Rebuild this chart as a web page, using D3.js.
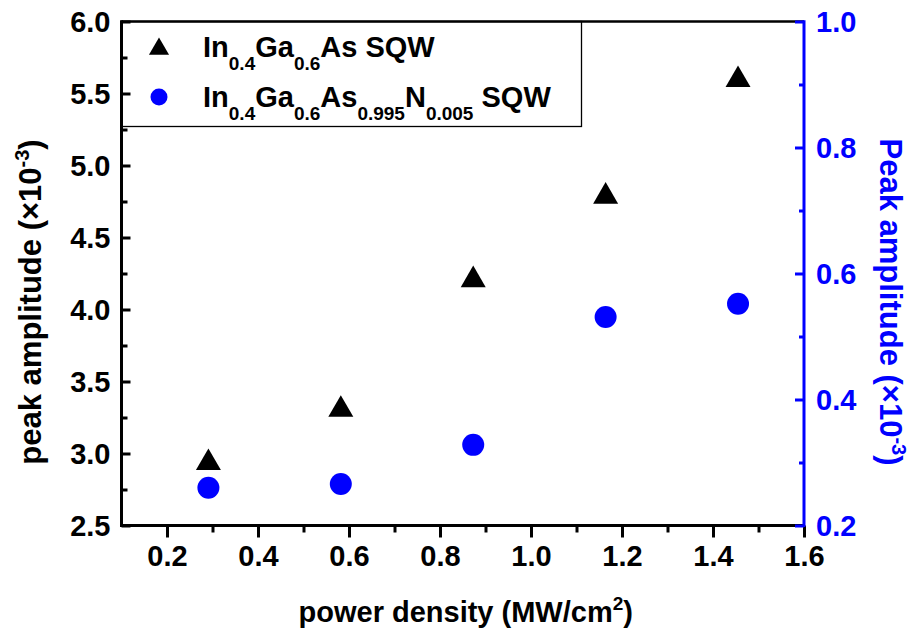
<!DOCTYPE html>
<html>
<head>
<meta charset="utf-8">
<script src="https://cdn.jsdelivr.net/npm/d3@7"></script>
<style>
	body { margin: 0; background: #fff; }
	svg text { font-family: "Liberation Sans", Arial, sans-serif; font-weight: bold; }
</style>
</head>
<body>
<div id="chart"></div>
<script>
// power density (MW/cm2)
var power= [0.291, 0.582, 0.873, 1.164, 1.455];
// left axis, peak amplitude x1e-3
var amp_ingaas= [2.96, 3.33, 4.23, 4.81, 5.62];
// right axis, peak amplitude x1e-3
var amp_ingaasn= [0.260, 0.266, 0.328, 0.531, 0.552];

var x_ticks= [0.2, 0.4, 0.6, 0.8, 1.0, 1.2, 1.4, 1.6];
var x_minor= [0.3, 0.5, 0.7, 0.9, 1.1, 1.3, 1.5];
var yl_ticks= [2.5, 3.0, 3.5, 4.0, 4.5, 5.0, 5.5, 6.0];
var yl_minor= [2.75, 3.25, 3.75, 4.25, 4.75, 5.25, 5.75];
var yr_ticks= [0.2, 0.4, 0.6, 0.8, 1.0];
var yr_minor= [0.3, 0.5, 0.7, 0.9];

var width= 914, height= 641;
var p_left= 121.5, p_right= 804, p_top= 21.5, p_bottom= 525.5;
var blue= "#0000ff";

var svg= d3.select("#chart").append("svg")
	.attr("width", width)
	.attr("height", height);

var x= d3.scaleLinear().domain([0.1, 1.6]).range([p_left, p_right]);
var yl= d3.scaleLinear().domain([2.5, 6.0]).range([p_bottom, p_top]);
var yr= d3.scaleLinear().domain([0.2, 1.0]).range([p_bottom, p_top]);

// top frame line
svg.append("line")
	.attr("x1", p_left).attr("x2", p_right)
	.attr("y1", p_top).attr("y2", p_top)
	.attr("stroke", "#000").attr("stroke-width", 2.5);

// legend box
svg.append("rect")
	.attr("x", p_left).attr("y", p_top)
	.attr("width", 460).attr("height", 105)
	.attr("fill", "none").attr("stroke", "#000").attr("stroke-width", 1.3);

// bottom axis
var xg= svg.append("g").attr("transform", "translate(0," + p_bottom + ")");
xg.call(d3.axisBottom(x).tickValues(x_ticks).tickSize(12).tickFormat(d3.format(".1f")));
xg.append("g").call(d3.axisBottom(x).tickValues(x_minor).tickSize(7).tickFormat(""));
xg.selectAll(".domain").remove();
xg.append("line").attr("x1", p_left - 1.5).attr("x2", p_right)
	.attr("stroke", "#000").attr("stroke-width", 3);
xg.selectAll(".tick line").attr("stroke", "#000").attr("stroke-width", 3);
xg.selectAll(".tick text").attr("font-size", 29).attr("fill", "#000").attr("dy", "1.0em").attr("y", 11);

// left axis, ticks inside
var ylg= svg.append("g").attr("transform", "translate(" + p_left + ",0)");
ylg.call(d3.axisLeft(yl).tickValues(yl_ticks).tickSize(-9).tickFormat(d3.format(".1f")));
ylg.append("g").call(d3.axisLeft(yl).tickValues(yl_minor).tickSize(-6).tickFormat(""));
ylg.selectAll(".domain").remove();
ylg.append("line").attr("y1", p_top - 1.2).attr("y2", p_bottom + 1.5)
	.attr("stroke", "#000").attr("stroke-width", 3);
ylg.selectAll(".tick line").attr("stroke", "#000").attr("stroke-width", 3);
ylg.selectAll(".tick text").attr("font-size", 29).attr("fill", "#000").attr("x", -11).attr("dy", "0.36em");

// right axis, blue, ticks inside
var yrg= svg.append("g").attr("transform", "translate(" + p_right + ",0)");
yrg.call(d3.axisRight(yr).tickValues(yr_ticks).tickSize(-9).tickFormat(d3.format(".1f")));
yrg.append("g").call(d3.axisRight(yr).tickValues(yr_minor).tickSize(-5).tickFormat(""));
yrg.selectAll(".domain").remove();
yrg.append("line").attr("y1", p_top - 1.2).attr("y2", p_bottom + 1.5)
	.attr("stroke", blue).attr("stroke-width", 3);
yrg.selectAll(".tick line").attr("stroke", blue).attr("stroke-width", 3);
yrg.selectAll(".tick text").attr("font-size", 29).attr("fill", blue).attr("x", 12).attr("dy", "0.36em");

// markers
var tri= d3.symbol().type(d3.symbolTriangle).size(270);
var tri_h= Math.sqrt(270 * 4 / Math.sqrt(3)) * Math.sqrt(3) / 2;

svg.append("g").selectAll("path")
	.data(power)
	.join("path")
	.attr("d", tri)
	.attr("transform", function(d, i) { return "translate(" + x(d) + "," + (yl(amp_ingaas[i]) + tri_h / 6) + ")"; })
	.attr("fill", "#000");

svg.append("g").selectAll("circle")
	.data(power)
	.join("circle")
	.attr("cx", function(d) { return x(d); })
	.attr("cy", function(d, i) { return yr(amp_ingaasn[i]); })
	.attr("r", 11)
	.attr("fill", blue);

// legend entries
var leg= svg.append("g");
var tri_s= d3.symbol().type(d3.symbolTriangle).size(175);
leg.append("path").attr("d", tri_s).attr("transform", "translate(159,49)").attr("fill", "#000");
leg.append("circle").attr("cx", 159).attr("cy", 97).attr("r", 8.5).attr("fill", blue);

function legend_text(y, parts) {
	var t= leg.append("text").attr("x", 203).attr("y", y).attr("font-size", 29).attr("fill", "#000");
	parts.forEach(function(p, i) {
		var s= t.append("tspan").text(p[0]);
		if (p[1]) s.attr("font-size", 19).attr("dy", 13);
		else if (i > 0) s.attr("dy", -13);
	});
}
legend_text(57, [["In"], ["0.4", 1], ["Ga"], ["0.6", 1], ["As SQW"]]);
legend_text(107, [["In"], ["0.4", 1], ["Ga"], ["0.6", 1], ["As"], ["0.995", 1], ["N"], ["0.005", 1], [" SQW"]]);

// axis titles
var xt= svg.append("text")
	.attr("x", (p_left + p_right) / 2 + 3).attr("y", 622)
	.attr("text-anchor", "middle").attr("font-size", 29).attr("fill", "#000");
xt.append("tspan").text("power density (MW/cm");
xt.append("tspan").attr("font-size", 19).attr("dy", -12).text("2");
xt.append("tspan").attr("dy", 12).text(")");

var ylt= svg.append("text")
	.attr("transform", "translate(41,302) rotate(-90)")
	.attr("text-anchor", "middle").attr("font-size", 31).attr("fill", "#000");
ylt.append("tspan").text("peak amplitude (\u00d710");
ylt.append("tspan").attr("font-size", 20).attr("dy", -12).text("-3");
ylt.append("tspan").attr("dy", 12).text(")");

var yrt= svg.append("text")
	.attr("transform", "translate(880,302) rotate(90)")
	.attr("text-anchor", "middle").attr("font-size", 31).attr("fill", blue);
yrt.append("tspan").text("Peak amplitude (\u00d710");
yrt.append("tspan").attr("font-size", 20).attr("dy", -12).text("-3");
yrt.append("tspan").attr("dy", 12).text(")");
</script>
</body>
</html>
